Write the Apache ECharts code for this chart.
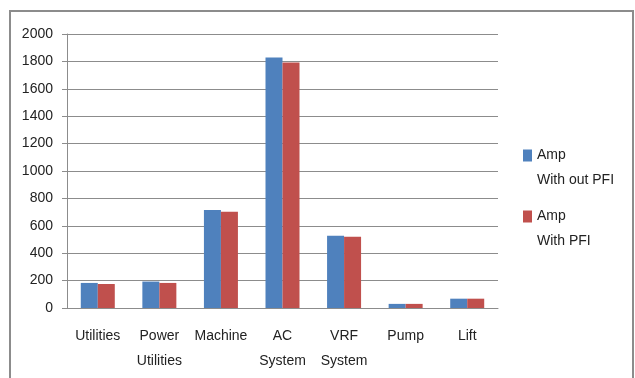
<!DOCTYPE html>
<html>
<head>
<meta charset="utf-8">
<script src="https://cdn.jsdelivr.net/npm/echarts@6/dist/echarts.min.js"></script>
<style>
html, body { margin: 0; padding: 0; background: #fff; }
#chart { width: 635px; height: 378px; }
</style>
</head>
<body>
<div id="chart"></div>
<script>
// categories and values
const categories = ['Utilities', 'Power\nUtilities', 'Machine', 'AC\nSystem', 'VRF\nSystem', 'Pump', 'Lift']
const ampWithoutPfi = [183, 193, 715, 1828, 528, 30, 68]
const ampWithPfi = [175, 183, 702, 1792, 520, 30, 68]
const yTicks = [0, 2000, 200]  // min, max, interval

const font = '"Liberation Sans", sans-serif'
const myChart = echarts.init(document.getElementById('chart'))
myChart.setOption({
  animation: false,
  color: ['#4F81BD', '#C0504D'],
  textStyle: { fontFamily: font },
  graphic: [{
    type: 'rect',
    shape: { x: 10, y: 11, width: 623, height: 380 },
    style: { fill: 'none', stroke: '#8c8c8c', lineWidth: 2 }
  }],
  grid: { left: 67, right: 137, top: 34, bottom: 70 },
  legend: {
    orient: 'vertical',
    left: 523,
    top: 118,
    padding: 0,
    icon: 'rect',
    itemWidth: 9,
    itemHeight: 12,
    itemGap: -14,
    // blank first line so the icon sits beside "Amp"
    formatter: name => ' \n' + name,
    textStyle: { fontSize: 14, color: '#222', lineHeight: 25, fontFamily: font },
    data: ['Amp\nWith out PFI', 'Amp\nWith PFI']
  },
  xAxis: {
    type: 'category',
    data: categories,
    axisLine: { lineStyle: { color: '#8c8c8c', width: 1 } },
    axisTick: { length: 7, lineStyle: { color: '#8c8c8c' } },
    axisLabel: { color: '#222', fontSize: 14, lineHeight: 25, margin: 16, interval: 0, fontFamily: font }
  },
  yAxis: {
    type: 'value',
    min: yTicks[0],
    max: yTicks[1],
    interval: yTicks[2],
    axisLine: { show: true, lineStyle: { color: '#8c8c8c' } },
    axisTick: { show: true, length: 5, lineStyle: { color: '#8c8c8c' } },
    axisLabel: { color: '#222', fontSize: 14, margin: 14, fontFamily: font, formatter: v => String(v) },
    splitLine: { lineStyle: { color: '#8c8c8c', width: 1 } }
  },
  series: [{
    name: 'Amp\nWith out PFI',
    type: 'bar',
    barWidth: 17,
    barGap: '0%',
    data: ampWithoutPfi
  }, {
    name: 'Amp\nWith PFI',
    type: 'bar',
    barWidth: 17,
    data: ampWithPfi
  }]
})
</script>
</body>
</html>
